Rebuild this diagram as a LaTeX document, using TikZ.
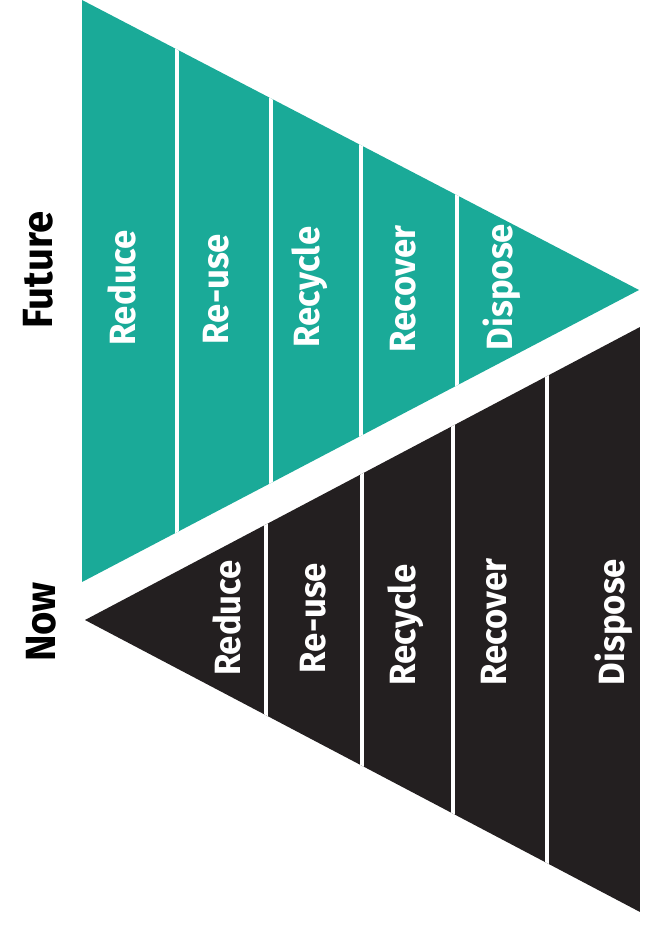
\documentclass[tikz,border=0pt]{standalone}
\usepackage{fontspec}
\setmainfont{Fira Sans}
\newfontfamily\stripfont[FakeStretch=0.95]{Fira Sans}
\usetikzlibrary{positioning}

\definecolor{futureteal}{RGB}{26,170,152}
\definecolor{nowblack}{RGB}{35,31,32}

\begin{document}
\begin{tikzpicture}[x=0.25mm, y=-0.25mm,
    lbl/.style={rotate=90, anchor=base, text=white, inner sep=0pt,
        font=\stripfont\bfseries\fontsize{26}{26}\selectfont},
    side/.style={rotate=90, anchor=base, inner sep=0pt,
        font=\stripfont\bfseries\fontsize{30}{30}\selectfont},
    cut/.style={white, line width=1mm}]
    \useasboundingbox (0,0) rectangle (664,929);

    % future: teal triangle pointing right
    \begin{scope}
        \clip (82,0) -- (639,290) -- (82,582) -- cycle;
        \fill[futureteal] (82,0) rectangle (640,582);
        \foreach \x in {176.5,270.5,360.5,457}
            \draw[cut] (\x,0) -- (\x,582);
    \end{scope}

    % now: black triangle pointing left
    \begin{scope}
        \clip (85,620) -- (640,327) -- (640,912) -- cycle;
        \fill[nowblack] (85,327) rectangle (640,912);
        \foreach \x in {266,362,453,547}
            \draw[cut] (\x,327) -- (\x,912);
    \end{scope}

    \node[side] (future) at (52,270) {Future};
    \node[side] (now) at (55,622) {Now};

    \node[lbl] (fReduce) at (135,288) {Reduce};
    \node[lbl] (fReuse) at (228,289) {Re-use};
    \node[lbl] (fRecycle) at (319,287) {Recycle};
    \node[lbl] (fRecover) at (415,289) {Recover};
    \node[lbl] (fDispose) at (512,287) {Dispose};

    \node[lbl] (nReduce) at (240,618) {Reduce};
    \node[lbl] (nReuse) at (325,618) {Re-use};
    \node[lbl] (nRecycle) at (415,625) {Recycle};
    \node[lbl] (nRecover) at (506,622) {Recover};
    \node[lbl] (nDispose) at (624,622) {Dispose};
\end{tikzpicture}
\end{document}
